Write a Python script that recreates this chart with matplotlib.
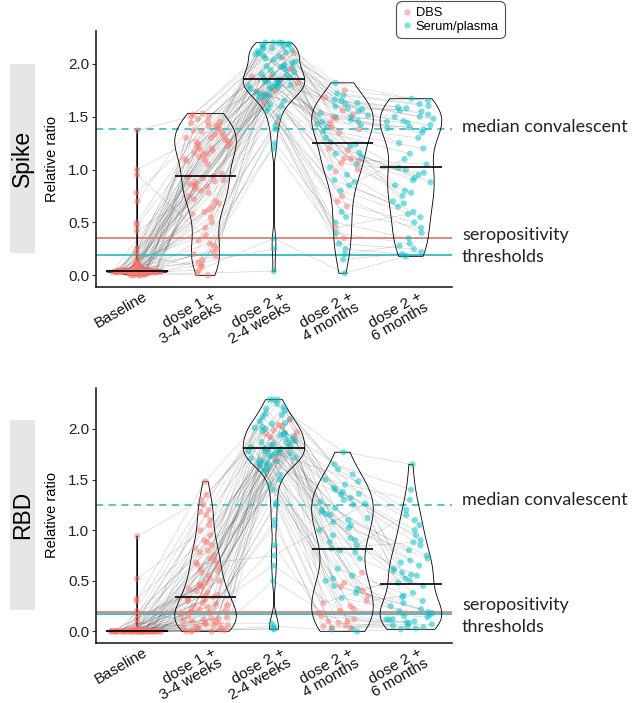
import numpy as np
import matplotlib
matplotlib.use("Agg")
import matplotlib.pyplot as plt
import matplotlib.transforms as mtransforms
from matplotlib.lines import Line2D
from matplotlib.patches import Rectangle

nan = np.nan

categories = ["Baseline", "dose 1 +\n3-4 weeks", "dose 2 +\n2-4 weeks",
              "dose 2 +\n4 months", "dose 2 +\n6 months"]
panels = ["Spike", "RBD"]
sample_types = ["DBS", "Serum/plasma"]

# ---------------- Spike: one entry per participant ----------------
spike_baseline = [
    0.03, 0.05, 0.00, 0.04, 0.08, 0.03, 1.37, 0.04, 0.01, 0.05,
    0.10, 0.03, 0.04, 0.22, 0.02, 0.06, 0.03, 0.05, 0.04, 0.00,
    0.47, 0.03, 0.07, 0.04, 0.01, 0.05, 0.03, 0.12, 0.04, 0.09,
    0.02, 0.04, 0.03, 1.00, 0.05, 0.00, 0.04, 0.03, 0.09, 0.04,
    0.26, 0.03, 0.06, 0.01, 0.04, 0.07, 0.03, 0.78, 0.04, 0.02,
    0.05, 0.03, 0.15, 0.04, 0.01, 0.06, 0.03, 0.50, 0.04, 0.08,
    0.03, 0.02, 0.04, 0.19, 0.05, 0.03, 0.70, 0.04, 0.00, 0.06,
    0.04, 0.03, 0.95, 0.05, 0.02, 0.42, 0.04, 0.03, 0.11, 0.01]
spike_dose1 = [
    1.12, 0.25, 1.30, 0.85, 1.45, 0.60, 1.50, 0.94, 0.10, 1.22,
    1.05, 0.72, 1.38, 1.53, 0.02, 1.18, 0.88, 1.28, 0.45, 0.86,
    1.42, 0.15, 1.25, 0.78, nan, 1.35, 0.92, 1.10, 0.30, 1.48,
    0.68, 1.15, 0.05, 1.40, 0.80, 0.20, 1.20, 0.82, 1.32, nan,
    1.08, 0.55, 1.26, 0.90, 1.45, 0.12, 0.70, 1.36, 0.75, 0.00,
    1.16, 0.96, 0.38, 1.30, 0.65, 1.24, nan, 1.50, 0.85, 0.22,
    1.14, 0.93, 1.33, 0.08, 1.27, 0.84, 1.44, 0.50, 1.19, 0.58,
    0.62, 1.37, 0.28, 1.09, 1.52, 0.89, 1.21, 0.18, 1.41, 0.33]
spike_dose2_wk = [
    1.95, 1.70, 2.10, 1.80, 2.20, 1.60, 2.15, 1.88, 1.25, 2.05,
    1.92, 1.75, 2.18, 2.20, 0.04, 1.76, 1.85, 2.08, 1.45, 1.90,
    2.12, 1.38, 1.98, 1.82, 1.78, 2.16, 1.87, 1.94, 1.55, 2.20,
    1.72, 1.96, 0.35, 2.10, 1.89, 1.20, 2.02, 1.84, 2.14, 1.65,
    1.78, 1.68, 2.06, 1.86, 2.18, 0.25, 1.72, 2.11, 1.77, nan,
    1.97, 1.90, 1.50, 2.04, 1.74, 1.99, 1.62, 2.19, 1.83, 1.58,
    1.80, 1.88, 2.09, 1.42, 1.71, 2.01, 1.81, 1.64, 2.17, 1.83,
    1.79, 2.07, 1.69, 1.95, 2.20, 1.73, 1.98, 1.84, 2.13, 1.85]
spike_dose2_4m = [
    1.45, 1.10, 1.60, 0.88, 1.75, 0.90, 1.55, 1.35, 0.50, 1.50,
    1.40, 1.05, 1.70, 1.82, nan, 1.48, 1.12, 1.58, 0.70, 1.42,
    1.65, 0.40, 1.52, 1.15, nan, 1.62, 1.20, 1.46, 0.80, 1.68,
    0.95, 1.44, 0.02, 1.56, 1.02, 0.25, 1.50, 1.00, nan, nan,
    1.38, 0.60, 1.53, 1.22, 1.66, nan, 1.10, nan, 0.85, nan,
    1.43, 1.18, 0.30, nan, 0.75, 1.36, 0.55, 1.72, 1.08, 0.15,
    1.40, 1.24, nan, 0.45, 1.47, 0.98, 1.57, nan, 1.30, 0.65,
    nan, 1.51, 0.35, 1.26, 1.63, 1.06, nan, 0.20, 1.49, 1.16]
spike_dose2_6m = [
    1.40, 0.85, 1.55, 1.10, 1.65, 0.60, 1.50, 1.20, 0.35, 1.45,
    1.30, 0.75, 1.60, 1.67, nan, 1.38, 1.00, nan, 0.50, 1.25,
    1.52, 0.30, nan, 0.95, nan, 1.48, 0.90, nan, 0.55, 1.58,
    0.70, nan, 0.18, 1.42, nan, 0.20, 1.35, 0.80, nan, nan,
    nan, 0.45, 1.44, nan, 1.50, nan, 1.05, nan, 0.65, nan,
    nan, 0.88, 0.25, nan, 0.40, 1.15, nan, 1.62, nan, 0.22,
    nan, 1.02, nan, 0.58, 1.39, nan, 1.56, nan, 0.78, nan,
    nan, 1.46, nan, 0.92, 1.59, 0.97, nan, 0.28, nan, 0.68]
# sample type per participant (D = DBS, S = serum/plasma)
spike_type_baseline = "D" * 80
spike_type_dose1 = "D" * 80
spike_type_dose2_wk = ("SSDSSSSDSS" "SDSSSSSSDS" "SSSDSSSSSS" "DSSSSSSDSS"
                       "SSDSSSSSSD" "SSSSDSSSSS" "SDSSSSSDSS" "SSSDSSSSSS")
spike_type_dose2_4m = ("SDSSDSSDSS" "DSSSSDSSDS" "SSDSSSDSSD" "SDSDSSSDSS"
                       "DSSSSSDSSS" "SDSSDSSSDS" "SSSDSDSSSD" "SSDSSDSSDS")
spike_type_dose2_6m = "S" * 80

# ---------------- RBD: one entry per participant ----------------
rbd_baseline = [
    0.00, 0.01, 0.00, 0.00, 0.02, 0.00, 0.94, 0.01, 0.00, 0.00,
    0.01, 0.00, 0.00, 0.30, 0.00, 0.01, 0.00, 0.00, 0.02, 0.00,
    0.00, 0.01, 0.00, 0.00, 0.00, 0.01, 0.00, 0.12, 0.00, 0.01,
    0.00, 0.00, 0.01, 0.52, 0.00, 0.00, 0.02, 0.00, 0.01, 0.00,
    0.00, 0.01, 0.00, 0.00, 0.01, 0.00, 0.00, 0.32, 0.00, 0.00,
    0.01, 0.00, 0.20, 0.00, 0.00, 0.01, 0.00, 0.00, 0.01, 0.00,
    0.00, 0.00, 0.01, 0.08, 0.00, 0.01, 0.00, 0.00, 0.00, 0.02,
    0.00, 0.01, 0.00, 0.00, 0.16, 0.00, 0.01, 0.00, 0.00, 0.01]
rbd_dose1 = [
    0.45, 0.05, 0.80, 0.20, 1.10, 0.12, 1.30, 0.34, 0.02, 0.60,
    0.38, 0.15, 0.95, 1.48, 0.00, 0.52, 0.25, 0.70, 0.08, 0.30,
    1.20, 0.03, 0.65, 0.18, nan, 0.85, 0.28, 0.42, 0.06, 1.25,
    0.14, 0.48, 0.00, 1.05, 0.22, 0.04, 0.55, 0.10, 0.75, nan,
    0.32, 0.09, 0.62, 0.26, 1.15, 0.01, 0.36, 0.90, 0.16, 0.00,
    0.40, 0.21, 0.07, 0.68, 0.13, 0.58, nan, 1.35, 0.19, 0.02,
    0.35, 0.11, 0.72, 0.05, 0.50, 0.24, 1.00, 0.08, 0.44, 0.82,
    0.12, 0.78, 0.03, 0.31, 1.18, 0.27, 0.46, 0.01, 0.88, 0.66]
rbd_dose2_wk = [
    1.90, 1.65, 2.10, 1.75, 2.29, 1.55, 2.05, 1.82, 1.10, 2.00,
    1.88, 1.70, 2.20, 2.29, 0.03, 1.78, 1.80, 1.98, 1.25, 1.85,
    2.08, 0.85, 1.95, 1.72, 1.68, 2.15, 1.83, 1.92, 1.45, 2.25,
    1.62, 1.93, 0.05, 2.12, 1.86, 0.65, 1.97, 1.77, 2.02, 1.50,
    1.74, 1.58, 2.03, 1.81, 2.18, 0.02, 1.69, 2.06, 1.73, nan,
    1.94, 1.87, 1.28, 1.99, 1.66, 1.96, 1.40, 2.22, 1.79, 0.50,
    1.76, 1.84, 2.01, 1.05, 1.67, 1.91, 1.76, 0.08, 2.14, 1.79,
    1.71, 2.04, 1.60, 1.89, 2.29, 1.64, 1.95, 1.78, 2.09, 0.75]
rbd_dose2_4m = [
    1.20, 0.55, 1.40, 0.30, 1.77, 0.10, 1.55, 0.80, 0.05, 1.05,
    0.95, 0.40, 1.30, 1.65, nan, 0.62, 0.35, 1.10, 0.02, 0.85,
    1.35, 0.15, 1.25, 0.45, nan, 1.45, 1.16, 0.90, 0.08, 1.50,
    0.25, 1.15, 0.00, 1.38, 0.50, 0.12, 1.22, 0.58, nan, nan,
    0.78, 0.20, 1.28, 0.92, 1.42, nan, 0.48, nan, 0.38, nan,
    1.00, 1.02, 0.04, nan, 0.33, 1.18, 0.22, 1.60, 0.72, 0.06,
    0.88, 0.42, nan, 0.18, 1.32, 0.52, 1.48, nan, 0.28, 0.02,
    nan, 1.12, 0.10, 0.82, 1.36, 0.44, nan, 0.03, 1.08, 1.26]
rbd_dose2_6m = [
    0.70, 0.25, 0.95, 0.35, 1.65, 0.10, 1.20, 0.45, 0.05, 0.60,
    0.55, 0.20, nan, 1.40, nan, 0.30, 0.15, 0.75, nan, 1.15,
    0.85, 0.08, nan, 0.22, nan, 1.05, 0.38, nan, 0.04, 1.30,
    0.12, nan, 0.02, 0.90, nan, 0.06, 0.65, 0.28, nan, nan,
    nan, 0.14, 0.80, nan, 1.00, nan, 0.18, nan, 0.12, nan,
    nan, 0.72, 0.03, nan, 0.16, 0.50, nan, 1.10, nan, 0.07,
    nan, 0.48, nan, 0.09, 0.62, nan, 0.58, nan, 0.56, nan,
    nan, 0.52, nan, 0.88, 0.68, 0.19, nan, 0.11, nan, 0.34]
rbd_type_baseline = "D" * 80
rbd_type_dose1 = "D" * 80
rbd_type_dose2_wk = ("SSSDSSSSSS" "SDSSSSSSSS" "SSDSSSSDSS" "SSSSSSDSSS"
                     "SSDSSSSSSS" "SSSDSSSSSS" "SSSSSDSSSS" "SDSSSSSSDS")
rbd_type_dose2_4m = ("SSSDSDSSDS" "SDSSSSDSSS" "SDSSSSSSDS" "DSSSSDSDSS"
                     "SDSSSSDSSS" "SSDSSSDSSD" "SSSDSSSSDS" "SSDSSDSDSS")
rbd_type_dose2_6m = "S" * 80

# thresholds / reference lines
spike_median_convalescent = 1.38
spike_threshold_dbs = 0.353
spike_threshold_serum = 0.19
rbd_median_convalescent = 1.25
rbd_threshold_dbs = 0.19
rbd_threshold_serum = 0.175

spike_values = [spike_baseline, spike_dose1, spike_dose2_wk, spike_dose2_4m, spike_dose2_6m]
spike_types = [spike_type_baseline, spike_type_dose1, spike_type_dose2_wk,
               spike_type_dose2_4m, spike_type_dose2_6m]
rbd_values = [rbd_baseline, rbd_dose1, rbd_dose2_wk, rbd_dose2_4m, rbd_dose2_6m]
rbd_types = [rbd_type_baseline, rbd_type_dose1, rbd_type_dose2_wk,
             rbd_type_dose2_4m, rbd_type_dose2_6m]

# ---------------- styling ----------------
PINK = "#F8766D"
CYAN = "#00BFC4"
TYPE_COLOR = {"D": PINK, "S": CYAN}
W, H = 633, 703
plt.rcParams["font.family"] = ["Liberation Sans", "DejaVu Sans"]


def nrd0_bw(x):
    x = np.asarray(x, float)
    sd = x.std(ddof=1)
    q75, q25 = np.percentile(x, [75, 25])
    lo = min(sd, (q75 - q25) / 1.34)
    if lo <= 0:
        lo = sd
    return 0.9 * lo * len(x) ** -0.2


def nrd0_factor(kde):
    x = np.asarray(kde.dataset).ravel()
    return nrd0_bw(x) / x.std(ddof=1)


def density(x, at):
    x = np.asarray(x, float)
    bw = nrd0_bw(x)
    z = (np.asarray(at)[:, None] - x[None, :]) / bw
    return np.exp(-0.5 * z ** 2).sum(axis=1)


def px_rect(x0, y0, x1, y1):
    return [x0 / W, 1 - y1 / H, (x1 - x0) / W, (y1 - y0) / H]


fig = plt.figure(figsize=(W / 100, H / 100), dpi=100)

panel_cfg = [
    dict(name="Spike", values=spike_values, types=spike_types,
         rect=px_rect(96, 31, 452, 287), ylim=(-0.11, 2.31),
         conv=spike_median_convalescent, thr_d=spike_threshold_dbs,
         thr_s=spike_threshold_serum, strip=(10, 64, 35, 253),
         txt_y=(127, 235, 257)),
    dict(name="RBD", values=rbd_values, types=rbd_types,
         rect=px_rect(96, 388, 452, 643), ylim=(-0.115, 2.405),
         conv=rbd_median_convalescent, thr_d=rbd_threshold_dbs,
         thr_s=rbd_threshold_serum, strip=(10, 420, 35, 610),
         txt_y=(500, 605, 627)),
]

VW = 0.9
for cfg in panel_cfg:
    ax = fig.add_axes(cfg["rect"])
    vals = [np.asarray(v, float) for v in cfg["values"]]
    n_part = len(vals[0])
    positions = np.arange(1, len(categories) + 1)

    # jittered x positions inside violin (sina-like), deterministic pattern
    xs = []
    for k, (v, p) in enumerate(zip(vals, positions)):
        ok = ~np.isnan(v)
        d = np.zeros_like(v)
        dens = density(v[ok], v[ok])
        grid = np.linspace(np.nanmin(v), np.nanmax(v), 512)
        dmax = density(v[ok], grid).max()
        d[ok] = dens / dmax
        u = 2 * ((np.arange(n_part) * 0.6180339887 + k * 0.37) % 1.0) - 1
        xs.append(p + u * d * VW / 2 * 0.85)
    xs = np.array(xs)
    ys = np.array(vals)

    # participant trajectories
    for i in range(n_part):
        ok = ~np.isnan(ys[:, i])
        if ok.sum() >= 2:
            ax.plot(xs[ok, i], ys[ok, i], color="black", alpha=0.16,
                    lw=0.5, zorder=1, solid_capstyle="round")

    # violins
    vp = ax.violinplot([v[~np.isnan(v)] for v in vals], positions=positions,
                       widths=VW, showextrema=False, points=600,
                       bw_method=nrd0_factor)
    for body in vp["bodies"]:
        body.set_facecolor("none")
        body.set_edgecolor("black")
        body.set_linewidth(0.6)
        body.set_alpha(1)
        body.set_zorder(2)

    # points
    for k, (v, t) in enumerate(zip(vals, cfg["types"])):
        ok = ~np.isnan(v)
        cols = [TYPE_COLOR[c] for c in t]
        cols = [c for c, o in zip(cols, ok) if o]
        ax.scatter(xs[k][ok], v[ok], s=20, c=cols, alpha=0.5,
                   linewidths=0, zorder=3)

    # medians
    for v, p in zip(vals, positions):
        ax.hlines(np.nanmedian(v), p - VW / 2, p + VW / 2, color="black",
                  lw=1.2, zorder=4)

    # reference lines
    ax.axhline(cfg["conv"], color="#4cbfc3", lw=1.3, ls=(0, (4, 3)), zorder=1.5)
    ax.axhline(cfg["thr_d"], color="#dd7f7a", lw=1.3, zorder=1.5)
    ax.axhline(cfg["thr_s"], color="#35bcc0", lw=1.3, zorder=1.5)

    ax.set_xlim(0.4, 5.6)
    ax.set_ylim(*cfg["ylim"])
    ax.set_yticks([0, 0.5, 1.0, 1.5, 2.0])
    ax.set_yticklabels(["0.0", "0.5", "1.0", "1.5", "2.0"])
    ax.set_xticks(positions)
    ax.set_xticklabels(categories, rotation=30, ha="right", va="top",
                       rotation_mode="anchor", multialignment="right",
                       linespacing=0.88)
    ax.tick_params(axis="y", labelsize=11, length=3, width=0.8,
                   color="#333333", labelcolor="#222222", pad=2)
    ax.tick_params(axis="x", labelsize=11, length=0, pad=1.5,
                   labelcolor="#111111")
    shift = mtransforms.ScaledTranslation(6 / 100, 0, fig.dpi_scale_trans)
    for lab in ax.get_xticklabels():
        lab.set_transform(lab.get_transform() + shift)
    for s in ["top", "right"]:
        ax.spines[s].set_visible(False)
    for s in ["left", "bottom"]:
        ax.spines[s].set_linewidth(1.1)
        ax.spines[s].set_color("#111111")
    ax.patch.set_alpha(0)

    # y label
    y0, y1 = cfg["rect"][1], cfg["rect"][1] + cfg["rect"][3]
    fig.text(52 / W, (y0 + y1) / 2, "Relative ratio", rotation=90,
             ha="center", va="center", fontsize=10.5)

    # strip
    sx0, sy0, sx1, sy1 = cfg["strip"]
    fig.add_artist(Rectangle((sx0 / W, 1 - sy1 / H), (sx1 - sx0) / W,
                             (sy1 - sy0) / H, transform=fig.transFigure,
                             facecolor="#E6E6E6", edgecolor="none"))
    fig.text((sx0 + sx1) / 2 / W, 1 - (sy0 + sy1) / 2 / H, cfg["name"],
             rotation=90, ha="center", va="center", fontsize=16.5)

    # annotations on the right
    ty = cfg["txt_y"]
    afam = ["Lato", "DejaVu Sans"]
    for txt, yy in zip(["median convalescent", "seropositivity", "thresholds"], ty):
        fig.text(462 / W, 1 - yy / H, txt, ha="left", va="center",
                 fontsize=13, family=afam, color="#222222")

# legend
handles = [Line2D([], [], ls="none", marker="o", markersize=4.5,
                  markerfacecolor=c, markeredgecolor="none", alpha=0.5)
           for c in (PINK, CYAN)]
leg = fig.legend(handles, sample_types, loc="upper left",
                 bbox_to_anchor=(399 / W, 1 - 4 / H), fontsize=9.3,
                 frameon=True, handlelength=0.7, handletextpad=0.35,
                 borderpad=0.25, labelspacing=0.1, borderaxespad=0)
leg.get_frame().set_edgecolor("#222222")
leg.get_frame().set_linewidth(0.8)
leg.get_frame().set_boxstyle("round", pad=0.2, rounding_size=0.4)

fig.savefig("out.png", dpi=100)
